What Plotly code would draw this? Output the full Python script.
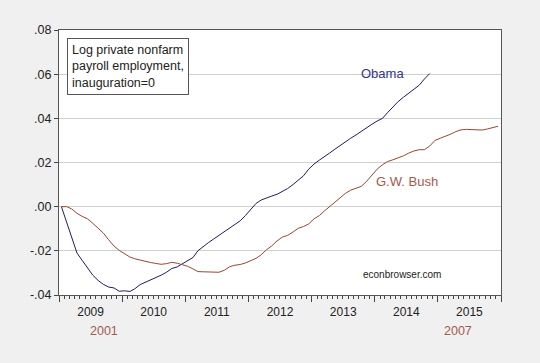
import plotly.graph_objects as go

# Months since inauguration (0 = January of first year)
obama_vals = [0, -0.0072, -0.0145, -0.0210, -0.0243, -0.0275, -0.0310, -0.0334, -0.0352, -0.0364,
              -0.0368, -0.0383, -0.0381, -0.0384, -0.0372, -0.0353, -0.0343, -0.0332, -0.0321, -0.0310,
              -0.0297, -0.0280, -0.0273, -0.0260, -0.0245, -0.0230, -0.0200, -0.0180, -0.0163, -0.0146,
              -0.0130, -0.0115, -0.0096, -0.0080, -0.0064, -0.0040, -0.0010, 0.0015, 0.0030, 0.0041,
              0.0048, 0.0056, 0.0068, 0.0082, 0.0100, 0.0120, 0.0140, 0.0170, 0.0193, 0.0211,
              0.0225, 0.0243, 0.0260, 0.0278, 0.0295, 0.0310, 0.0325, 0.0342, 0.0357, 0.0373,
              0.0388, 0.0400, 0.0425, 0.0450, 0.0475, 0.0495, 0.0513, 0.0530, 0.0550, 0.0578,
              0.0603]

bush_vals = [0, 0, -0.0010, -0.0030, -0.0044, -0.0055, -0.0075, -0.0098, -0.0120, -0.0150,
             -0.0178, -0.0198, -0.0215, -0.0228, -0.0236, -0.0242, -0.0249, -0.0253, -0.0257, -0.0261,
             -0.0258, -0.0252, -0.0256, -0.0262, -0.0270, -0.0282, -0.0294, -0.0295, -0.0296, -0.0297,
             -0.0297, -0.0288, -0.0272, -0.0265, -0.0262, -0.0255, -0.0245, -0.0234, -0.0218, -0.0195,
             -0.0178, -0.0155, -0.0138, -0.0130, -0.0115, -0.0098, -0.0090, -0.0078, -0.0055, -0.0040,
             -0.0020, 0.0000, 0.0020, 0.0040, 0.0060, 0.0075, 0.0085, 0.0092, 0.0115, 0.0140,
             0.0170, 0.0190, 0.0204, 0.0212, 0.0220, 0.0230, 0.0242, 0.0252, 0.0258, 0.0258,
             0.0275, 0.0300, 0.0310, 0.0318, 0.0328, 0.0340, 0.0348, 0.0350, 0.0348, 0.0346,
             0.0347, 0.0352, 0.0358, 0.0364]

y_tickvals = [-0.04, -0.02, 0.0, 0.02, 0.04, 0.06, 0.08]
y_ticktext = ["-.04", "-.02", ".00", ".02", ".04", ".06", ".08"]
obama_start_year = 2009
bush_start_label = "2001"
bush_end_label = "2007"


def month_dates(n):
    return [f"{obama_start_year + m // 12}-{m % 12 + 1:02d}-15" for m in range(n)]


OBAMA_C = "#1e1e5a"
BUSH_C = "#984536"
FONT = "Liberation Sans, Arial, sans-serif"

fig = go.Figure()
fig.add_trace(go.Scatter(x=month_dates(len(obama_vals)), y=obama_vals, mode="lines",
                         line=dict(color=OBAMA_C, width=1), showlegend=False))
fig.add_trace(go.Scatter(x=month_dates(len(bush_vals)), y=bush_vals, mode="lines",
                         line=dict(color=BUSH_C, width=1), showlegend=False))

fig.update_layout(
    width=540, height=363,
    margin=dict(l=59, r=39, t=30, b=68),
    paper_bgcolor="#f0f0f0", plot_bgcolor="white",
    font=dict(family=FONT, size=12, color="#333333"),
    xaxis=dict(
        range=["2009-01-01", "2016-01-01"],
        dtick="M12", tick0="2009-01-01", tickformat="%Y", ticklabelmode="period",
        ticks="outside", ticklen=6, tickcolor="#444", tickwidth=1,
        minor=dict(dtick="M1", ticks="outside", ticklen=3, tickcolor="#444", showgrid=False),
        showgrid=False, showline=True, linecolor="#555", linewidth=1, mirror=True,
        tickfont=dict(size=12, color="#222"),
        zeroline=False,
    ),
    yaxis=dict(
        range=[-0.04, 0.08], tickvals=y_tickvals, ticktext=y_ticktext,
        ticks="outside", ticklen=4, tickcolor="#444",
        showgrid=True, gridcolor="#d0d0d0", gridwidth=1,
        showline=True, linecolor="#555", linewidth=1, mirror=True,
        zeroline=False, tickfont=dict(size=12.5, color="#222"),
    ),
)

fig.add_annotation(xref="paper", yref="paper", x=0.017, y=0.968, xanchor="left", yanchor="top",
                   text="Log private nonfarm<br>payroll employment,<br>inauguration=0",
                   align="left", showarrow=False, bordercolor="#555", borderwidth=1,
                   borderpad=4, bgcolor="white", font=dict(size=12.5, color="#222"))
fig.add_annotation(xref="paper", yref="paper", x=0.785, y=0.870, text="Obama", showarrow=False,
                   font=dict(size=13, color="#34348a"))
fig.add_annotation(xref="paper", yref="paper", x=0.862, y=0.429, text="G.W. Bush", showarrow=False,
                   font=dict(size=13, color="#a05a50"))
fig.add_annotation(xref="paper", yref="paper", x=0.869, y=0.048, text="econbrowser.com",
                   showarrow=False, font=dict(size=10, color="#222"))
fig.add_annotation(xref="paper", yref="paper", x=0.065, y=-0.134, yanchor="middle",
                   text=bush_start_label, showarrow=False, font=dict(size=12.5, color="#a05a50"))
fig.add_annotation(xref="paper", yref="paper", x=0.939, y=-0.134, yanchor="middle",
                   text=bush_end_label, showarrow=False, font=dict(size=12.5, color="#a05a50"))

fig.write_html("out.html", config={"displayModeBar": False},
               post_script="document.body.style.margin='0';document.body.style.overflow='hidden';")
